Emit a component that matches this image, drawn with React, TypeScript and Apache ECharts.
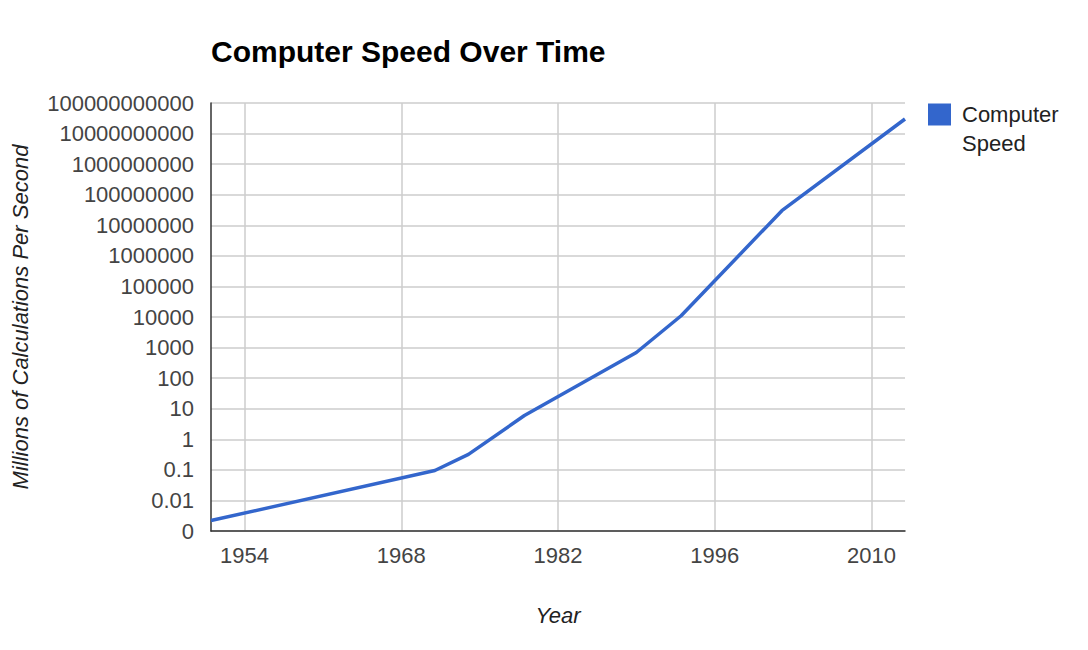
import React, { useEffect, useRef } from "react";
import * as echarts from "echarts";

const years = [1951, 1971, 1974, 1979, 1989, 1993, 2002, 2013];
const speeds = [0.0022, 0.095, 0.32, 6, 690, 11000, 30000000, 30000000000];
const xTicks = [1954, 1968, 1982, 1996, 2010];
const yTickLabels = [
  "0",
  "0.01",
  "0.1",
  "1",
  "10",
  "100",
  "1000",
  "10000",
  "100000",
  "1000000",
  "10000000",
  "100000000",
  "1000000000",
  "10000000000",
  "100000000000",
];
const seriesName = "Computer Speed";

const FONT = "Arial, 'Liberation Sans', sans-serif";

export default function App() {
  const ref = useRef<HTMLDivElement>(null);

  useEffect(() => {
    document.body.style.margin = "0";
    if (!ref.current) return;
    const chart = echarts.init(ref.current, undefined, { renderer: "svg" });
    chart.setOption({
      animation: false,
      backgroundColor: "#ffffff",
      title: {
        text: "Computer Speed Over Time",
        left: 211,
        top: 36,
        padding: 0,
        textStyle: { fontFamily: FONT, fontSize: 30, fontWeight: "bold", color: "#000" },
      },
      legend: {
        data: [seriesName],
        left: 928,
        top: 68,
        padding: 0,
        icon: "rect",
        itemWidth: 23,
        itemHeight: 22,
        formatter: () => "\nComputer\nSpeed",
        textStyle: {
          fontFamily: FONT,
          fontSize: 22,
          color: "#222",
          lineHeight: 29,
          padding: [6, 0, 0, 6],
        },
      },
      grid: { left: 211, right: 183, top: 103, bottom: 119, containLabel: false },
      xAxis: {
        type: "value",
        min: 1951,
        max: 2013,
        name: "Year",
        nameLocation: "middle",
        nameGap: 73,
        nameTextStyle: { fontFamily: FONT, fontSize: 22, fontStyle: "italic", color: "#222" },
        axisLine: { show: true, lineStyle: { color: "#333", width: 1.5 } },
        axisTick: { show: false, customValues: xTicks },
        axisLabel: {
          customValues: xTicks,
          margin: 13,
          fontFamily: FONT,
          fontSize: 22,
          color: "#444",
          formatter: (v: number) => String(v),
        },
        splitLine: { show: true, lineStyle: { color: "#cccccc", width: 1.5 } },
      },
      yAxis: {
        type: "log",
        logBase: 10,
        min: 0.001,
        max: 100000000000,
        interval: 1,
        name: "Millions of Calculations Per Second",
        nameLocation: "middle",
        nameRotate: 90,
        nameGap: 180,
        nameTextStyle: { fontFamily: FONT, fontSize: 22, fontStyle: "italic", color: "#222" },
        axisLine: { show: true, lineStyle: { color: "#333", width: 1.5 } },
        axisTick: { show: false },
        axisLabel: {
          margin: 17,
          fontFamily: FONT,
          fontSize: 22,
          color: "#444",
          formatter: (v: number) => {
            const idx = Math.round(Math.log10(v)) + 3;
            return yTickLabels[idx] ?? "";
          },
        },
        splitLine: { show: true, lineStyle: { color: "#cccccc", width: 1.5 } },
      },
      series: [
        {
          name: seriesName,
          type: "line",
          data: years.map((y, i) => [y, speeds[i]]),
          showSymbol: false,
          symbol: "none",
          color: "#3366CC",
          lineStyle: { color: "#3366CC", width: 3.5 },
          itemStyle: { color: "#3366CC" },
        },
      ],
    });
    return () => chart.dispose();
  }, []);

  return <div ref={ref} style={{ width: 1088, height: 650 }} />;
}
